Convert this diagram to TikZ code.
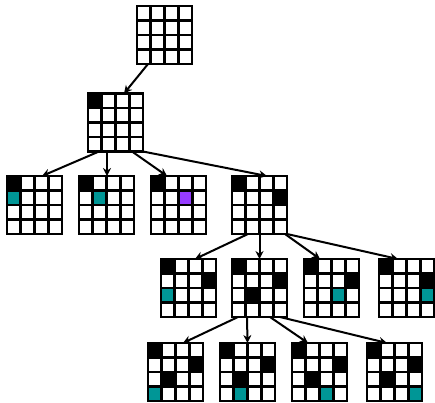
\documentclass[tikz,border=0pt]{standalone}
\usepackage{tikz}
\usetikzlibrary{arrows.meta,calc}
\definecolor{queenteal}{RGB}{0,150,150}
\definecolor{queenpurple}{RGB}{150,60,255}
% fill one square of a board: node, column, row, colour
\newcommand{\cellfill}[4]{%
  \fill[#4] ([xshift={(#2-1)*13.75pt},yshift={-(#3-1)*14.5pt}]#1.north west)
    rectangle +(13.75pt,-14.5pt);}

\begin{document}
\begin{tikzpicture}[
  x=1pt, y=-1pt,
  board/.style={fill=white, minimum width=55pt, minimum height=58pt,
                inner sep=0pt, outer sep=0pt},
  gridline/.style={line width=2.6pt, black},
  edge/.style={line width=2pt, -{Stealth[length=8pt,width=8pt]}}
]
\useasboundingbox (0,0) rectangle (435,402);

% boards
\node[board] (b0)  at (164.5,35)  {};
\node[board] (b1)  at (115.5,122.5) {};
\node[board] (b2a) at (34.5,205)  {};
\node[board] (b2b) at (106.5,205) {};
\node[board] (b2c) at (178.5,205) {};
\node[board] (b2d) at (259.5,205) {};
\node[board] (b3a) at (188.5,288) {};
\node[board] (b3b) at (259.5,288) {};
\node[board] (b3c) at (331.5,288) {};
\node[board] (b3d) at (406.5,288) {};
\node[board] (b4a) at (175.5,372) {};
\node[board] (b4b) at (247.5,372) {};
\node[board] (b4c) at (319.5,372) {};
\node[board] (b4d) at (394.5,372) {};

% queens and tried squares
\foreach \b/\c/\r/\col in {
    b1/1/1/black,
    b2a/1/1/black, b2a/1/2/queenteal,
    b2b/1/1/black, b2b/2/2/queenteal,
    b2c/1/1/black, b2c/3/2/queenpurple,
    b2d/1/1/black, b2d/4/2/black,
    b3a/1/1/black, b3a/4/2/black, b3a/1/3/queenteal,
    b3b/1/1/black, b3b/4/2/black, b3b/2/3/black,
    b3c/1/1/black, b3c/4/2/black, b3c/3/3/queenteal,
    b3d/1/1/black, b3d/4/2/black, b3d/4/3/queenteal,
    b4a/1/1/black, b4a/4/2/black, b4a/2/3/black, b4a/1/4/queenteal,
    b4b/1/1/black, b4b/4/2/black, b4b/2/3/black, b4b/2/4/queenteal,
    b4c/1/1/black, b4c/4/2/black, b4c/2/3/black, b4c/3/4/queenteal,
    b4d/1/1/black, b4d/4/2/black, b4d/2/3/black, b4d/4/4/queenteal}
  \cellfill{\b}{\c}{\r}{\col};

% grid lines
\foreach \b in {b0,b1,b2a,b2b,b2c,b2d,b3a,b3b,b3c,b3d,b4a,b4b,b4c,b4d} {
  \foreach \i in {1,2,3} {
    \draw[gridline] ($(\b.north west)!\i/4!(\b.north east)$) -- ($(\b.south west)!\i/4!(\b.south east)$);
    \draw[gridline] ($(\b.north west)!\i/4!(\b.south west)$) -- ($(\b.north east)!\i/4!(\b.south east)$);
  }
  \draw[gridline] (\b.north west) rectangle (\b.south east);
}

% search edges
\draw[edge] ([xshift=-16.5pt]b0.south) -- ([xshift=8.5pt]b1.north);

\draw[edge] ([xshift=-16.5pt]b1.south) -- ([xshift=7.5pt]b2a.north);
\draw[edge] ([xshift=-8.5pt]b1.south)  -- ([xshift=0.5pt]b2b.north);
\draw[edge] ([xshift=16.5pt]b1.south)  -- ([xshift=-11.5pt]b2c.north);
\draw[edge] ([xshift=27.5pt]b1.south)  -- ([xshift=7.5pt]b2d.north);

\draw[edge] ([xshift=-11.5pt]b2d.south) -- ([xshift=6.5pt]b3a.north);
\draw[edge] (b2d.south)                 -- (b3b.north);
\draw[edge] ([xshift=25.5pt]b2d.south)  -- ([xshift=-11.5pt]b3c.north);
\draw[edge] ([xshift=27.5pt]b2d.south)  -- ([xshift=-8.5pt]b3d.north);

\draw[edge] ([xshift=-21.5pt]b3b.south) -- ([xshift=7.5pt]b4a.north);
\draw[edge] ([xshift=-12.5pt]b3b.south) -- (b4b.north);
\draw[edge] ([xshift=10.5pt]b3b.south)  -- ([xshift=-11.5pt]b4c.north);
\draw[edge] ([xshift=20.5pt]b3b.south)  -- ([xshift=-7.5pt]b4d.north);
\end{tikzpicture}
\end{document}
